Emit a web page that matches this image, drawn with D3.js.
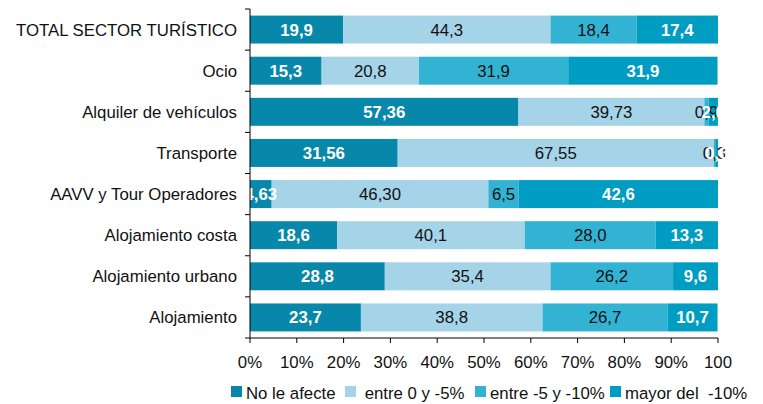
<!DOCTYPE html>
<html><head><meta charset="utf-8">
<script src="https://cdn.jsdelivr.net/npm/d3@7"></script>
<style>
body{margin:0;background:#fff;}
svg{font-family:"Liberation Sans",Arial,sans-serif;}
</style></head>
<body><svg id="c" width="763" height="404"></svg>
<script>
const categories = ["TOTAL SECTOR TURÍSTICO","Ocio","Alquiler de vehículos","Transporte","AAVV y Tour Operadores","Alojamiento costa","Alojamiento urbano","Alojamiento"];
const seriesNames = ["No le afecte"," entre 0 y -5%","entre -5 y -10%","mayor del  -10%"];
const noAfecta   = ["19,9","15,3","57,36","31,56","4,63","18,6","28,8","23,7"];
const entre0y5   = ["44,3","20,8","39,73","67,55","46,30","40,1","35,4","38,8"];
const entre5y10  = ["18,4","31,9","0,9","0,3","6,5","28,0","26,2","26,7"];
const mayor10    = ["17,4","31,9","2,0","0,6","42,6","13,3","9,6","10,7"];
const tickLabels = ["0%","10%","20%","30%","40%","50%","60%","70%","80%","90%","100"];
const colors = ["#0787a9","#a5d3e8","#33b3d3","#009dc2"];
const labelStyle = [{fill:"#fff",w:"bold"},{fill:"#111",w:"normal"},{fill:"#111",w:"normal"},{fill:"#fff",w:"bold"}];

const seriesLabels = [noAfecta, entre0y5, entre5y10, mayor10];
const num = s => +s.replace(",", ".");
const FS = "16.8px";

const svg = d3.select("#c");
const m = {l:250, r:718, t:9, b:338};
const x = d3.scaleLinear().domain([0,100]).range([m.l, m.r]);
const y = d3.scaleBand().domain(categories).range([m.t, m.b]).paddingInner(0.32).paddingOuter(0.16);

const rows = categories.map((c,i)=>{
  let acc = 0;
  return seriesLabels.map((arr,k)=>{
    const v = num(arr[i]); const seg = {cat:c, k, x0:acc, x1:acc+v, label:arr[i]};
    acc += v; return seg;
  });
}).flat();

svg.append("g").selectAll("rect").data(rows).join("rect")
  .attr("x", d=>x(d.x0)).attr("width", d=>Math.max(0, x(Math.min(d.x1,100))-x(d.x0)))
  .attr("y", d=>y(d.cat)).attr("height", y.bandwidth())
  .attr("fill", d=>colors[d.k]);

svg.append("g").selectAll("text").data(rows).join("text")
  .attr("x", d=>x((d.x0+d.x1)/2)).attr("y", d=>y(d.cat)+y.bandwidth()/2)
  .attr("dy","0.36em").attr("text-anchor","middle")
  .attr("font-size",FS)
  .attr("fill", d=>labelStyle[d.k].fill).attr("font-weight", d=>labelStyle[d.k].w)
  .text(d=>d.label);

// y axis
const ya = svg.append("g").attr("transform",`translate(${m.l},0)`);
ya.append("line").attr("x1",0).attr("x2",0).attr("y1",m.t).attr("y2",m.b).attr("stroke","#000");
const bounds = d3.range(categories.length+1).map(i=>m.t + i*(m.b-m.t)/categories.length);
ya.selectAll(".t").data(bounds).join("line").attr("x1",-5).attr("x2",0).attr("y1",d=>d).attr("y2",d=>d).attr("stroke","#000");
ya.selectAll("text").data(categories).join("text")
  .attr("x",-13).attr("y",d=>y(d)+y.bandwidth()/2).attr("dy","0.36em")
  .attr("text-anchor","end").attr("font-size",FS).attr("fill","#111").text(d=>d);

// x axis
const xa = svg.append("g").attr("transform",`translate(0,${m.b})`);
xa.append("line").attr("x1",m.l).attr("x2",m.r).attr("stroke","#000");
const ticks = d3.range(0,101,10);
xa.selectAll(".tk").data(ticks).join("line").attr("x1",d=>x(d)).attr("x2",d=>x(d)).attr("y1",0).attr("y2",5).attr("stroke","#000");
xa.selectAll("text").data(ticks).join("text")
  .attr("x",d=>x(d)).attr("y",30).attr("text-anchor","middle").attr("font-size",FS).attr("fill","#111")
  .text((d,i)=>tickLabels[i]);

// legend
const legendX = [231,345,475,610];
const lg = svg.append("g").attr("transform","translate(0,399)");
seriesNames.forEach((n,k)=>{
  lg.append("rect").attr("x",legendX[k]).attr("y",-13).attr("width",11).attr("height",11).attr("fill",colors[k]);
  lg.append("text").attr("x",legendX[k]+15).attr("y",0).attr("font-size",FS).attr("fill","#111")
    .style("white-space","pre").text(n);
});
</script></body></html>
